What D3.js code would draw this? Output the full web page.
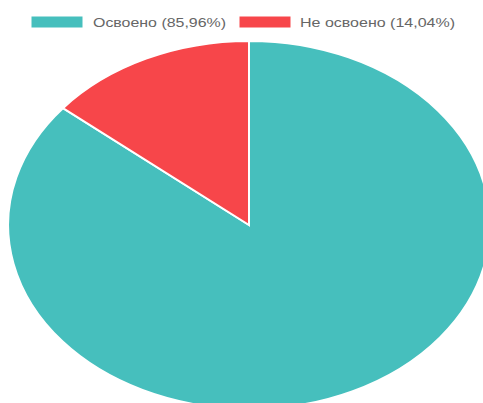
<!DOCTYPE html>
<html><head><meta charset="utf-8">
<script src="https://cdn.jsdelivr.net/npm/d3@7"></script>
<style>html,body{margin:0;padding:0;background:#fff;overflow:hidden}</style>
</head><body>
<svg id="c" width="483" height="403"></svg>
<script>
const labels = ["Освоено", "Не освоено"];
const values = [85.96, 14.04];
const colors = ["#46BFBD", "#F7464A"];

const svg = d3.select("#c");
const cx = 249, cy = 225, rx = 241, ry = 184;

const pie = d3.pie().sort(null).value(d => d.v);
const arcs = pie(values.map((v, i) => ({v, i})));
const arc = d3.arc().innerRadius(0).outerRadius(1);

const g = svg.append("g").attr("transform", `translate(${cx},${cy}) scale(${rx},${ry})`);
g.selectAll("path").data(arcs).join("path")
  .attr("d", arc)
  .attr("fill", d => colors[d.data.i])
  .attr("stroke", "#fff")
  .attr("stroke-width", 2)
  .attr("vector-effect", "non-scaling-stroke");

// legend
const fmt = v => v.toFixed(2).replace(".", ",");
const legend = [
  {x: 31, tx: 93, tl: 133},
  {x: 239, tx: 300, tl: 155}
];
const lg = svg.append("g");
legend.forEach((L, i) => {
  lg.append("rect").attr("x", L.x).attr("y", 16).attr("width", 52).attr("height", 12)
    .attr("fill", colors[i]).attr("stroke", "#fff").attr("stroke-width", 1);
  lg.append("text").attr("x", L.tx).attr("y", 26.5)
    .attr("font-family", "Liberation Sans, Arial, sans-serif")
    .attr("font-size", 12.5).attr("fill", "#666")
    .attr("textLength", L.tl).attr("lengthAdjust", "spacingAndGlyphs")
    .text(`${labels[i]} (${fmt(values[i])}%)`);
});
</script>
</body></html>
